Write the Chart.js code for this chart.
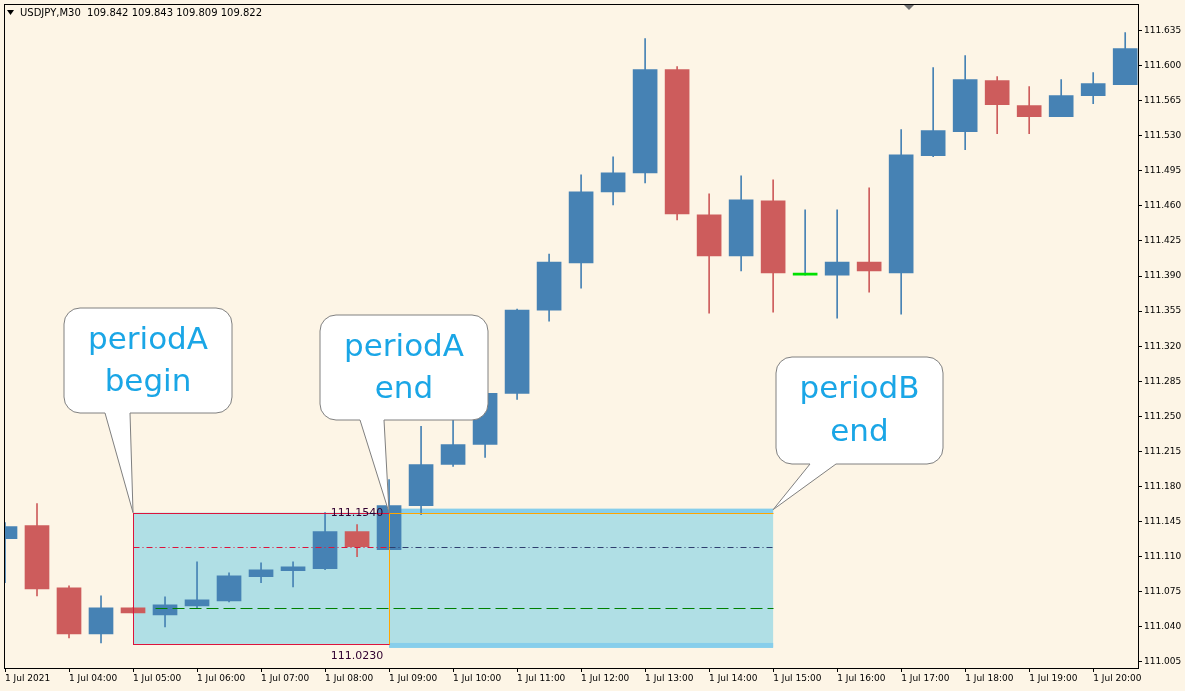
<!DOCTYPE html>
<html>
<head>
<meta charset="utf-8">
<script src="https://cdn.jsdelivr.net/npm/chart.js@4.4.1/dist/chart.umd.min.js"></script>
<style>
  html,body{margin:0;padding:0;background:#fff;}
  #wrap{width:1185px;height:691px;position:relative;}
</style>
</head>
<body>
<div id="wrap"><canvas id="c" width="1185" height="691"></canvas></div>
<script>
'use strict';

/* ── DATA ────────────────────────────────────────────────── */
const OPEN  = [111.128,111.141,111.079,111.033,111.059,111.052,111.061,111.066,111.090,111.096,111.098,111.135,
               111.117,111.161,111.202,111.222,111.273,111.356,111.403,111.474,111.493,111.596,111.451,111.410,
               111.465,111.391,111.391,111.404,111.393,111.510,111.534,111.585,111.560,111.549,111.570,111.581];
const CLOSE = [111.140,111.078,111.033,111.059,111.054,111.062,111.067,111.091,111.097,111.100,111.135,111.120,
               111.161,111.202,111.222,111.273,111.356,111.404,111.474,111.493,111.596,111.452,111.410,111.466,
               111.393,111.391,111.404,111.395,111.511,111.535,111.586,111.561,111.549,111.570,111.582,111.617];
const HIGH  = [111.144,111.163,111.081,111.071,111.059,111.070,111.105,111.094,111.104,111.105,111.154,111.142,
               111.187,111.240,111.249,111.274,111.357,111.412,111.491,111.509,111.627,111.599,111.472,111.490,
               111.486,111.456,111.456,111.478,111.536,111.598,111.610,111.589,111.579,111.586,111.593,111.633];
const LOW   = [111.084,111.071,111.029,111.024,111.054,111.040,111.059,111.065,111.084,111.080,111.097,111.110,
               111.117,111.152,111.200,111.209,111.267,111.345,111.378,111.461,111.483,111.446,111.353,111.395,
               111.354,111.391,111.348,111.374,111.352,111.509,111.516,111.532,111.532,111.549,111.562,111.581];

const TIME_LABELS = ['1 Jul 2021','1 Jul 04:00','1 Jul 05:00','1 Jul 06:00','1 Jul 07:00','1 Jul 08:00',
  '1 Jul 09:00','1 Jul 10:00','1 Jul 11:00','1 Jul 12:00','1 Jul 13:00','1 Jul 14:00','1 Jul 15:00',
  '1 Jul 16:00','1 Jul 17:00','1 Jul 18:00','1 Jul 19:00','1 Jul 20:00'];
const PRICE_TICKS = [111.005,111.040,111.075,111.110,111.145,111.180,111.215,111.250,111.285,111.320,
  111.355,111.390,111.425,111.460,111.495,111.530,111.565,111.600,111.635];

// period boxes: [fromIndex, toIndex, high, low]
const PERIOD_A = [4, 12, 111.154, 111.023];
const PERIOD_B = [12, 24, 111.157, 111.020];
const MID_LEVEL = 111.120;
const GREEN_LEVEL = 111.059;
const ORANGE_LEVEL = 111.154;

const CALLOUTS = [
  { lines:['periodA','begin'], box:[64,308,168,105], base:[105,130], tip:[4, 111.154] },
  { lines:['periodA','end'],   box:[320,315,168,105], base:[360,384], tip:[12,111.154] },
  { lines:['periodB','end'],   box:[776,357,167,107], base:[810,836], tip:[24,111.157] },
];

const BLUE = '#4682b4', RED = '#cd5c5c', DOJI = '#00e000';
const FONT = "'DejaVu Sans', sans-serif";

/* ── HELPERS ─────────────────────────────────────────────── */
const idx = OPEN.map((_,i)=>i);
const colorOf = i => OPEN[i]===CLOSE[i] ? DOJI : (CLOSE[i] > OPEN[i] ? BLUE : RED);
const wickColor = i => OPEN[i]===CLOSE[i] ? BLUE : colorOf(i);

/* ── OVERLAY PLUGIN ──────────────────────────────────────── */
const overlay = {
  id:'overlay',
  beforeDraw(chart){
    const {ctx,width,height} = chart;
    ctx.save();
    ctx.fillStyle = '#fdf5e6';
    ctx.fillRect(0,0,width,height);
    ctx.restore();
  },
  beforeDatasetsDraw(chart){
    const {ctx, scales:{x,y}} = chart;
    const rect = (p)=>[x.getPixelForValue(p[0]), y.getPixelForValue(p[2]),
                       x.getPixelForValue(p[1]), y.getPixelForValue(p[3])];
    ctx.save();
    let [x1,y1,x2,y2] = rect(PERIOD_B);
    ctx.fillStyle = '#b0dfe5';
    ctx.fillRect(x1,y1,x2-x1,y2-y1);
    ctx.fillStyle = '#87ceeb';
    ctx.fillRect(x1,y1-1,x2-x1,5);
    ctx.fillRect(x1,y2-4,x2-x1,5);
    [x1,y1,x2,y2] = rect(PERIOD_A);
    ctx.fillStyle = '#b0dfe5';
    ctx.fillRect(x1,y1,x2-x1,y2-y1);
    ctx.restore();
  },
  afterDatasetsDraw(chart){
    const {ctx, scales:{x,y}} = chart;
    const X = v=>Math.round(x.getPixelForValue(v))+0.5, Y = v=>Math.round(y.getPixelForValue(v))+0.5;
    ctx.save();
    ctx.lineWidth = 1;
    ctx.strokeStyle = '#dc143c';
    ctx.strokeRect(X(PERIOD_A[0]),Y(PERIOD_A[2]),X(PERIOD_A[1])-X(PERIOD_A[0]),Y(PERIOD_A[3])-Y(PERIOD_A[2]));
    ctx.strokeStyle = '#ffa500';
    ctx.beginPath();
    ctx.moveTo(X(PERIOD_B[1]),Y(ORANGE_LEVEL)); ctx.lineTo(X(PERIOD_B[0]),Y(ORANGE_LEVEL));
    ctx.lineTo(X(PERIOD_B[0]),Y(PERIOD_B[3])-3);
    ctx.stroke();
    ctx.setLineDash([6,3,1,3]);
    ctx.strokeStyle = '#dc143c';
    ctx.beginPath(); ctx.moveTo(X(PERIOD_A[0]),Y(MID_LEVEL)); ctx.lineTo(X(PERIOD_A[1]),Y(MID_LEVEL)); ctx.stroke();
    ctx.strokeStyle = '#2f3f6f';
    ctx.beginPath(); ctx.moveTo(X(PERIOD_B[0]),Y(MID_LEVEL)); ctx.lineTo(X(PERIOD_B[1]),Y(MID_LEVEL)); ctx.stroke();
    ctx.setLineDash([12,5]);
    ctx.strokeStyle = '#008000';
    ctx.beginPath(); ctx.moveTo(X(PERIOD_A[0]+0.7),Y(GREEN_LEVEL)); ctx.lineTo(X(PERIOD_B[1]),Y(GREEN_LEVEL)); ctx.stroke();
    ctx.setLineDash([]);
    ctx.font = '11px '+FONT;
    ctx.fillStyle = '#300030';
    ctx.textAlign = 'center';
    ctx.textBaseline = 'middle';
    ctx.fillText(PERIOD_A[2].toFixed(4), x.getPixelForValue(PERIOD_A[1]-1), Y(PERIOD_A[2]));
    ctx.fillText(PERIOD_A[3].toFixed(4), x.getPixelForValue(PERIOD_A[1]-1), Y(PERIOD_A[3])+12);
    ctx.restore();
  },
  afterDraw(chart){
    const {ctx, scales:{x,y}} = chart;
    ctx.save();
    CALLOUTS.forEach(c=>{
      const [bx,by,bw,bh] = c.box, r = 16;
      const tx = x.getPixelForValue(c.tip[0]), ty = y.getPixelForValue(c.tip[1]);
      ctx.beginPath();
      ctx.moveTo(bx+r,by);
      ctx.arcTo(bx+bw,by,bx+bw,by+bh,r);
      ctx.arcTo(bx+bw,by+bh,bx,by+bh,r);
      ctx.lineTo(c.base[1],by+bh);
      ctx.lineTo(tx,ty);
      ctx.lineTo(c.base[0],by+bh);
      ctx.arcTo(bx,by+bh,bx,by,r);
      ctx.arcTo(bx,by,bx+bw,by,r);
      ctx.closePath();
      ctx.fillStyle = '#fff';
      ctx.fill();
      ctx.strokeStyle = '#808080';
      ctx.lineWidth = 1;
      ctx.stroke();
      ctx.fillStyle = '#1aa6e6';
      ctx.font = '31px '+FONT;
      ctx.textAlign = 'center';
      ctx.textBaseline = 'middle';
      ctx.fillText(c.lines[0], bx+bw/2, by+bh*0.31);
      ctx.fillText(c.lines[1], bx+bw/2, by+bh*0.71);
    });
    ctx.fillStyle = '#000';
    ctx.font = '10px '+FONT;
    ctx.textAlign = 'left';
    ctx.textBaseline = 'middle';
    ctx.beginPath(); ctx.moveTo(7,10); ctx.lineTo(14,10); ctx.lineTo(10.5,15); ctx.closePath(); ctx.fill();
    ctx.fillText('USDJPY,M30  109.842 109.843 109.809 109.822', 20, 13);
    ctx.fillStyle = '#707070';
    ctx.beginPath(); ctx.moveTo(904,5); ctx.lineTo(914,5); ctx.lineTo(909,10); ctx.closePath(); ctx.fill();
    const a = chart.chartArea;
    ctx.strokeStyle = '#000';
    ctx.lineWidth = 1;
    ctx.strokeRect(Math.round(a.left)-0.5, 4.5, Math.round(a.right-a.left)+1, Math.round(a.bottom)-4);
    ctx.restore();
  }
};

/* ── CHART ───────────────────────────────────────────────── */
new Chart(document.getElementById('c'), {
  type:'bar',
  data:{
    datasets:[
      { data:idx.map(i=>({x:i, y:[LOW[i],HIGH[i]]})), backgroundColor:idx.map(wickColor),
        barThickness:1, grouped:false, order:2 },
      { data:idx.map(i=>({x:i, y:[OPEN[i],CLOSE[i]]})), backgroundColor:idx.map(colorOf),
        barThickness:24, minBarLength:2, grouped:false, order:1 },
    ]
  },
  plugins:[overlay],
  options:{
    responsive:false, animation:false,
    layout:{ padding:{ left:5, top:5, right:0, bottom:0 } },
    plugins:{ legend:{display:false}, tooltip:{enabled:false} },
    scales:{
      x:{
        type:'linear', min:0, max:35.4, offset:false,
        afterBuildTicks:s=>{ s.ticks = TIME_LABELS.map((_,k)=>({value:k*2})); },
        afterFit:s=>{ s.height = 23; },
        grid:{ drawOnChartArea:false, offset:false, tickLength:4, color:'#000' },
        border:{ display:false },
        ticks:{ align:'start', padding:1, maxRotation:0, autoSkip:false, color:'#000',
          font:{family:FONT, size:9}, callback:(v)=>TIME_LABELS[v/2] }
      },
      y:{
        position:'right', min:110.999, max:111.658,
        afterBuildTicks:s=>{ s.ticks = PRICE_TICKS.map(v=>({value:v})); },
        afterFit:s=>{ s.width = 47; },
        grid:{ drawOnChartArea:false, tickLength:4, color:'#000' },
        border:{ display:false },
        ticks:{ padding:2, color:'#000', font:{family:FONT, size:9}, callback:v=>v.toFixed(3) }
      }
    }
  }
});
</script>
</body>
</html>
